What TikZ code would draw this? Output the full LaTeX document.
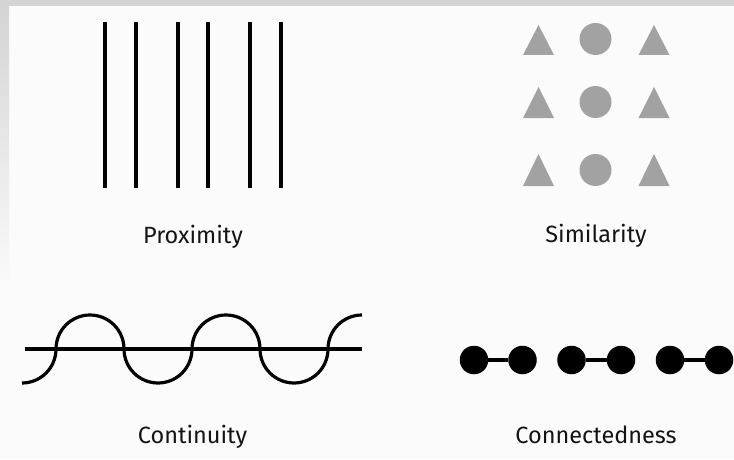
\documentclass[tikz,border=0pt]{standalone}
\usepackage{fontspec}
\setmainfont{Fira Sans}
\begin{document}
\begin{tikzpicture}[x=1pt,y=1pt,
  stroke/.style={line width=3.2pt,black},
  shapegray/.style={fill=simgray,draw=none},
  dotnode/.style={circle,fill=black,draw=none,minimum size=28.5pt,inner sep=0pt},
  label/.style={anchor=base,font=\fontsize{23.5}{26}\selectfont,text=black!92}]
\definecolor{bgwhite}{HTML}{FBFBFB}
\definecolor{edgegray}{HTML}{D4D4D4}
\definecolor{simgray}{HTML}{A2A2A2}
% background
\fill[bgwhite] (0,0) rectangle (734,459);
\useasboundingbox (0,0) rectangle (734,459);
\fill[edgegray] (0,453) rectangle (734,459);
\shade[top color=edgegray,bottom color=bgwhite] (0,169) rectangle (9,453);
% Proximity
\foreach \x in {105,136,178,208,250,281}
  \draw[stroke] (\x,437) -- (\x,271);
\node[label] (prox) at (193,216) {Proximity};
% Similarity
\foreach \yt/\yb in {434/404,372/341,305/273}{
  \fill[shapegray] (523,\yb) -- (554,\yb) -- (538.5,\yt) -- cycle;
  \fill[shapegray] (638.5,\yb) -- (669.5,\yb) -- (654,\yt) -- cycle;
}
\foreach \yc in {420,357,289}
  \fill[shapegray] (595.5,\yc) circle (16);
\node[label] (sim) at (596,217) {Similarity};
% Continuity
\draw[stroke] (25,110) -- (362,110);
\draw[stroke] (22,76) arc[start angle=270,end angle=360,radius=34]
  arc[start angle=180,end angle=0,radius=34]
  arc[start angle=180,end angle=360,radius=34]
  arc[start angle=180,end angle=0,radius=34]
  arc[start angle=180,end angle=360,radius=34]
  arc[start angle=180,end angle=90,radius=34];
\node[label] (cont) at (192.5,16) {Continuity};
% Connectedness
\node[dotnode] (d1) at (474,99) {};
\node[dotnode] (d2) at (522.5,99) {};
\node[dotnode] (d3) at (571.5,99) {};
\node[dotnode] (d4) at (621,99) {};
\node[dotnode] (d5) at (670,99) {};
\node[dotnode] (d6) at (719,99) {};
\draw[stroke] (d1) -- (d2);
\draw[stroke] (d3) -- (d4);
\draw[stroke] (d5) -- (d6);
\node[label] (conn) at (596,16) {Connectedness};
\end{tikzpicture}
\end{document}
